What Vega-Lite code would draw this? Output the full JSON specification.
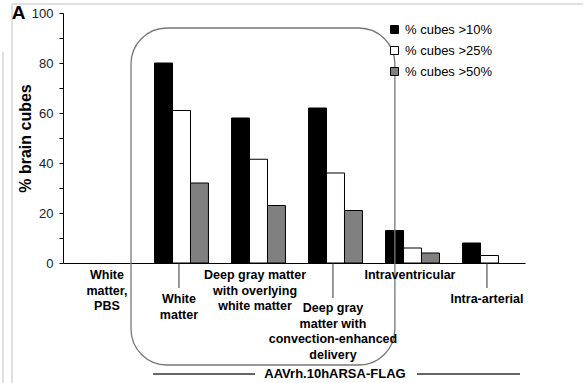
{
  "$schema": "https://vega.github.io/schema/vega-lite/v6.json",
  "width": 462,
  "height": 250,
  "autosize": "none",
  "padding": {"left": 63, "top": 13, "right": 60, "bottom": 120},
  "background": "white",
  "config": {"view": {"stroke": null}, "font": "Liberation Sans"},
  "layer": [
    {
      "data": {"values": [
        {"x1": -0.662, "x2": 6.753, "y1": 103.6, "y2": 103.6},
        {"x1": -0.662, "x2": -0.662, "y1": 103.6, "y2": -48},
        {"x1": -0.779, "x2": -0.779, "y1": 84.4, "y2": -48}
      ]},
      "mark": {"type": "rule", "color": "#e0e0e0", "strokeWidth": 2},
      "encoding": {
        "x": {"field": "x1", "type": "quantitative", "scale": {"domain": [0, 6], "nice": false, "zero": false}, "axis": null},
        "x2": {"field": "x2"},
        "y": {"field": "y1", "type": "quantitative", "scale": {"domain": [0, 100], "nice": false}, "axis": null},
        "y2": {"field": "y2"}
      }
    },
    {
      "data": {"values": [
        {"region": "White matter", "series": "% cubes >10%", "v": 80},
        {"region": "White matter", "series": "% cubes >25%", "v": 61},
        {"region": "White matter", "series": "% cubes >50%", "v": 32},
        {"region": "Deep gray overlying", "series": "% cubes >10%", "v": 58},
        {"region": "Deep gray overlying", "series": "% cubes >25%", "v": 41.5},
        {"region": "Deep gray overlying", "series": "% cubes >50%", "v": 23},
        {"region": "Deep gray CED", "series": "% cubes >10%", "v": 62},
        {"region": "Deep gray CED", "series": "% cubes >25%", "v": 36},
        {"region": "Deep gray CED", "series": "% cubes >50%", "v": 21},
        {"region": "Intraventricular", "series": "% cubes >10%", "v": 13},
        {"region": "Intraventricular", "series": "% cubes >25%", "v": 6},
        {"region": "Intraventricular", "series": "% cubes >50%", "v": 4},
        {"region": "Intra-arterial", "series": "% cubes >10%", "v": 8},
        {"region": "Intra-arterial", "series": "% cubes >25%", "v": 3}
      ]},
      "mark": {"type": "bar", "stroke": "black", "strokeWidth": 1},
      "encoding": {
        "x": {"field": "region", "type": "nominal",
          "scale": {"domain": ["White matter, PBS", "White matter", "Deep gray overlying", "Deep gray CED", "Intraventricular", "Intra-arterial"], "paddingInner": 0.3, "paddingOuter": 0.15, "align": 0.63},
          "axis": {"labels": false, "ticks": false, "title": null, "domainColor": "black", "domainWidth": 1}},
        "xOffset": {"field": "series", "type": "nominal", "scale": {"paddingInner": 0}},
        "y": {"field": "v", "type": "quantitative",
          "scale": {"domain": [0, 100], "nice": false},
          "axis": {"title": "% brain cubes", "titleFontSize": 16, "titleFontWeight": "bold", "titleColor": "black", "titlePadding": -2,
            "values": [0, 10, 20, 30, 40, 50, 60, 70, 80, 90, 100],
            "labelExpr": "datum.value % 20 == 0 ? datum.label : ''",
            "labelFontSize": 13, "labelColor": "#222", "labelPadding": 6,
            "tickColor": "black", "tickSize": 4, "domainColor": "black", "grid": false}},
        "color": {"field": "series", "type": "nominal",
          "scale": {"domain": ["% cubes >10%", "% cubes >25%", "% cubes >50%"], "range": ["#000000", "#ffffff", "#808080"]},
          "legend": {"title": null, "orient": "none", "legendX": 325, "legendY": 10,
            "symbolType": "square", "symbolSize": 64, "symbolStrokeColor": "black", "symbolStrokeWidth": 1,
            "labelFontSize": 13, "labelColor": "black", "labelOffset": 4, "rowPadding": 7}}
      }
    },
    {
      "data": {"values": [{"x1": 0.883, "x2": 4.31, "y1": 94, "y2": -40.8}]},
      "mark": {"type": "rect", "fill": null, "stroke": "#777777", "strokeWidth": 1.3, "cornerRadius": 36},
      "encoding": {
        "x": {"field": "x1", "type": "quantitative", "scale": {"domain": [0, 6], "nice": false, "zero": false}, "axis": null},
        "x2": {"field": "x2"},
        "y": {"field": "y1", "type": "quantitative", "scale": {"domain": [0, 100], "nice": false}, "axis": null},
        "y2": {"field": "y2"}
      }
    },
    {
      "data": {"values": [
        {"label": "White\nmatter,\nPBS", "x": 0.571, "y": -2.4},
        {"label": "White\nmatter", "x": 1.506, "y": -12},
        {"label": "Deep gray matter\nwith overlying\nwhite matter", "x": 2.494, "y": -2.4},
        {"label": "Deep gray\nmatter with\nconvection-enhanced\ndelivery", "x": 3.506, "y": -15.6},
        {"label": "Intraventricular", "x": 4.506, "y": -2.4},
        {"label": "Intra-arterial", "x": 5.506, "y": -12}
      ]},
      "mark": {"type": "text", "fontWeight": "bold", "fontSize": 12.5, "baseline": "top", "align": "center", "lineBreak": "\n", "lineHeight": 15.5, "color": "black"},
      "encoding": {
        "x": {"field": "x", "type": "quantitative", "scale": {"domain": [0, 6], "nice": false, "zero": false}, "axis": null},
        "y": {"field": "y", "type": "quantitative", "scale": {"domain": [0, 100], "nice": false}, "axis": null},
        "text": {"field": "label"}
      }
    },
    {
      "data": {"values": [
        {"x": 1.506, "y1": 0, "y2": -10},
        {"x": 3.506, "y1": 0, "y2": -14},
        {"x": 5.506, "y1": 0, "y2": -10}
      ]},
      "mark": {"type": "rule", "color": "#333333", "strokeWidth": 1},
      "encoding": {
        "x": {"field": "x", "type": "quantitative", "scale": {"domain": [0, 6], "nice": false, "zero": false}, "axis": null},
        "y": {"field": "y1", "type": "quantitative", "scale": {"domain": [0, 100], "nice": false}, "axis": null},
        "y2": {"field": "y2"}
      }
    },
    {
      "data": {"values": [
        {"x1": 1.17, "x2": 2.494, "y": -44.4},
        {"x1": 4.597, "x2": 5.935, "y": -44.4}
      ]},
      "mark": {"type": "rule", "color": "#333333", "strokeWidth": 1.5},
      "encoding": {
        "x": {"field": "x1", "type": "quantitative", "scale": {"domain": [0, 6], "nice": false, "zero": false}, "axis": null},
        "x2": {"field": "x2"},
        "y": {"field": "y", "type": "quantitative", "scale": {"domain": [0, 100], "nice": false}, "axis": null}
      }
    },
    {
      "data": {"values": [
        {"label": "AAVrh.10hARSA-FLAG", "x": 3.532, "y": -44.4}
      ]},
      "mark": {"type": "text", "fontWeight": "bold", "fontSize": 13, "baseline": "middle", "align": "center", "color": "black"},
      "encoding": {
        "x": {"field": "x", "type": "quantitative", "scale": {"domain": [0, 6], "nice": false, "zero": false}, "axis": null},
        "y": {"field": "y", "type": "quantitative", "scale": {"domain": [0, 100], "nice": false}, "axis": null},
        "text": {"field": "label"}
      }
    },
    {
      "data": {"values": [
        {"label": "A", "x": -0.578, "y": 100}
      ]},
      "mark": {"type": "text", "fontWeight": "bold", "fontSize": 19, "baseline": "middle", "align": "center", "color": "black"},
      "encoding": {
        "x": {"field": "x", "type": "quantitative", "scale": {"domain": [0, 6], "nice": false, "zero": false}, "axis": null},
        "y": {"field": "y", "type": "quantitative", "scale": {"domain": [0, 100], "nice": false}, "axis": null},
        "text": {"field": "label"}
      }
    }
  ],
  "resolve": {"scale": {"x": "independent"}, "axis": {"x": "independent", "y": "independent"}}
}
